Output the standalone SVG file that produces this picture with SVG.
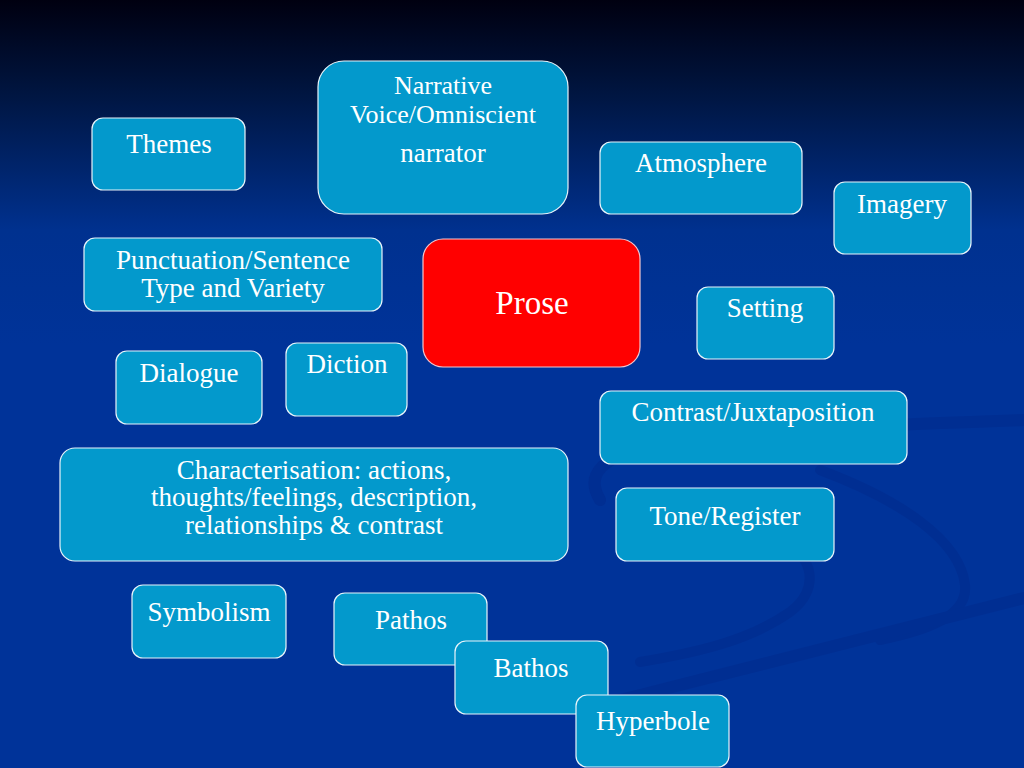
<svg xmlns="http://www.w3.org/2000/svg" width="1024" height="768" viewBox="0 0 1024 768">
<defs>
<linearGradient id="bg" x1="0" y1="0" x2="0" y2="1">
<stop offset="0" stop-color="#000010"/>
<stop offset="0.12" stop-color="#001540"/>
<stop offset="0.3" stop-color="#00318f"/>
<stop offset="0.45" stop-color="#003399"/>
<stop offset="1" stop-color="#003399"/>
</linearGradient>
<style>
.box{fill:#0399cc;stroke:#e8f4fa;stroke-width:1.2}
.t{font-family:"Liberation Serif","Times New Roman",serif;font-size:27px;fill:#ffffff;text-anchor:middle}
.sw{fill:none;stroke:#00298a;stroke-linecap:round}
</style>
</defs>
<rect x="0" y="0" width="1024" height="768" fill="url(#bg)"/>
<g id="swooshes" opacity="0.45">
<path class="sw" stroke-width="12" d="M1024,420 C900,424 760,430 660,445 C600,455 585,475 600,500"/>
<path class="sw" stroke-width="10" d="M780,540 C815,555 820,590 790,612 C750,640 700,652 640,662"/>
<path class="sw" stroke-width="10" d="M820,470 C900,500 960,540 965,585 C968,615 930,630 880,640"/>
<path class="sw" stroke-width="12" d="M1024,598 C900,630 780,660 660,690 C630,698 610,702 600,705"/>
</g>
<g id="connectors"></g>
<g id="n-narrative"><rect class="box" x="318" y="61" width="250" height="153" rx="26"/>
<text class="t" x="443" y="94" style="font-size:26px">Narrative</text><text class="t" x="443" y="123" style="font-size:26px">Voice/Omniscient</text><text class="t" x="443" y="162">narrator</text></g>
<g id="n-themes"><rect class="box" x="92" y="118" width="153" height="72" rx="11"/><text class="t" x="169" y="153">Themes</text></g>
<g id="n-atmosphere"><rect class="box" x="600" y="142" width="202" height="72" rx="11"/><text class="t" x="701" y="172">Atmosphere</text></g>
<g id="n-imagery"><rect class="box" x="834" y="182" width="137" height="72" rx="11"/><text class="t" x="902" y="213">Imagery</text></g>
<g id="n-punctuation"><rect class="box" x="84" y="238" width="298" height="73" rx="11"/><text class="t" x="233" y="269">Punctuation/Sentence</text><text class="t" x="233" y="297">Type and Variety</text></g>
<g id="n-prose"><rect x="423" y="239" width="217" height="128" rx="20" fill="#ff0000" stroke="#f0c8d0" stroke-width="1.2"/><text class="t" x="532" y="314" style="font-size:33px">Prose</text></g>
<g id="n-setting"><rect class="box" x="697" y="287" width="137" height="72" rx="11"/><text class="t" x="765" y="317">Setting</text></g>
<g id="n-dialogue"><rect class="box" x="116" y="351" width="146" height="73" rx="11"/><text class="t" x="189" y="382">Dialogue</text></g>
<g id="n-diction"><rect class="box" x="286" y="343" width="121" height="73" rx="11"/><text class="t" x="347" y="373">Diction</text></g>
<g id="n-contrast"><rect class="box" x="600" y="391" width="307" height="73" rx="11"/><text class="t" x="753" y="421">Contrast/Juxtaposition</text></g>
<g id="n-characterisation"><rect class="box" x="60" y="448" width="508" height="113" rx="15"/>
<text class="t" x="314" y="479">Characterisation: actions,</text><text class="t" x="314" y="506">thoughts/feelings, description,</text><text class="t" x="314" y="534">relationships &amp; contrast</text></g>
<g id="n-tone"><rect class="box" x="616" y="488" width="218" height="73" rx="11"/><text class="t" x="725" y="525">Tone/Register</text></g>
<g id="n-symbolism"><rect class="box" x="132" y="585" width="154" height="73" rx="11"/><text class="t" x="209" y="621">Symbolism</text></g>
<g id="n-pathos"><rect class="box" x="334" y="593" width="153" height="72" rx="11"/><text class="t" x="411" y="629">Pathos</text></g>
<g id="n-bathos"><rect class="box" x="455" y="641" width="153" height="73" rx="11"/><text class="t" x="531" y="677">Bathos</text></g>
<g id="n-hyperbole"><rect class="box" x="576" y="695" width="153" height="72" rx="11"/><text class="t" x="653" y="730">Hyperbole</text></g>
</svg>
